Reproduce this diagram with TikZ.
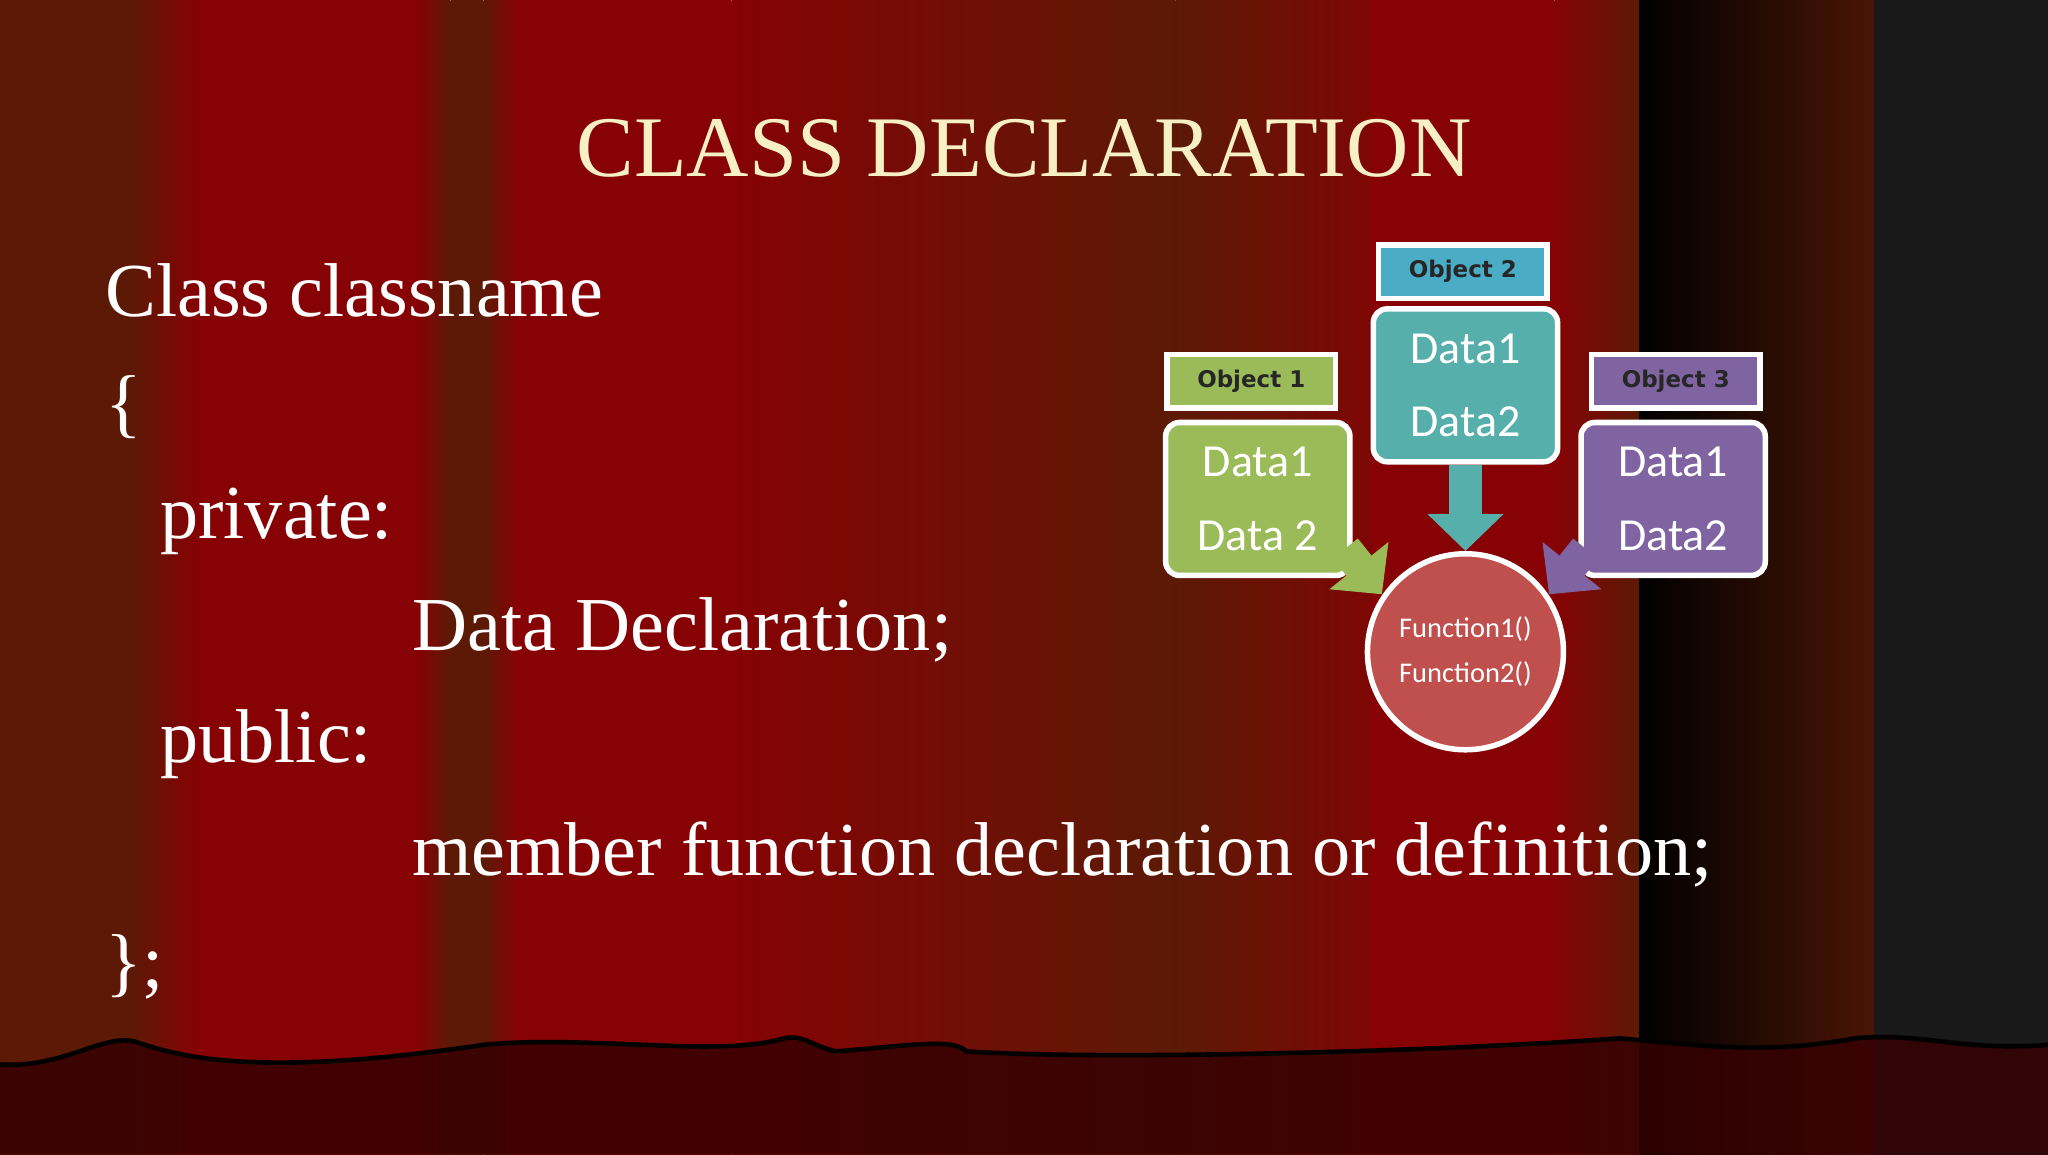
\documentclass[tikz,border=0pt]{standalone}
\usepackage{fontspec}
\setmainfont{Liberation Serif}
\newfontfamily\calfnt{Carlito}
\newfontfamily\dvs{DejaVu Sans}
\usetikzlibrary{arrows.meta}
\definecolor{brn}{HTML}{5C1A06}
\definecolor{rd}{HTML}{860204}
\definecolor{ttl}{HTML}{F6F0C4}
\definecolor{gr}{HTML}{9BBB59}
\definecolor{tl}{HTML}{4BACC6}
\definecolor{tl2}{HTML}{56AFAA}
\definecolor{pu}{HTML}{8064A2}
\definecolor{cr}{HTML}{C0504D}
\tikzset{
 body/.style={font=\fontsize{16.6}{18}\selectfont, text=white, anchor=base west, inner sep=0},
 lbl/.style={draw=white, line width=1.2pt, minimum width=1.29cm, minimum height=0.41cm, font=\dvs\bfseries\fontsize{5}{6}\selectfont, text=black!85, inner sep=0},
 dbox/.style={draw=white, line width=1.2pt, rounded corners=3pt, minimum width=1.41cm, minimum height=1.17cm, text=white, font=\calfnt\fontsize{10}{12}\selectfont, align=center, inner sep=0},
 barr/.style={line width=7pt, -{Triangle[length=8pt,width=16pt]}}
}
\begin{document}
\begin{tikzpicture}[x=0.01cm,y=-0.01cm]
\useasboundingbox (0,0) rectangle (1568,884);
% background stripes
\fill[brn] (0,0) rectangle (130,884);
\shade[left color=brn, right color=rd] (100,0) rectangle (150,884);
\fill[rd] (150,0) rectangle (330,884);
\shade[left color=rd, right color=brn] (320,0) rectangle (345,884);
\fill[brn] (345,0) rectangle (370,884);
\shade[left color=brn, right color=rd] (370,0) rectangle (395,884);
\fill[rd] (395,0) rectangle (560,884);
\shade[left color=rd, right color=brn] (560,0) rectangle (900,884);
\shade[left color=brn, right color=rd!80!brn] (900,0) rectangle (1050,884);
\fill[rd] (1050,0) rectangle (1190,884);
\shade[left color=rd, right color=brn] (1190,0) rectangle (1255,884);
\shade[left color=black, right color=brn!80!black] (1255,0) rectangle (1435,884);
\fill[black!90] (1435,0) rectangle (1568,884);
% bottom
\fill[black!60!rd, opacity=0.85] (0,815) .. controls (50,818) and (80,790) .. (105,798) .. controls (140,810) and (200,825) .. (370,800) .. controls (450,792) and (550,810) .. (600,795) .. controls (615,792) and (620,800) .. (640,805) .. controls (700,800) and (730,795) .. (740,805) .. controls (850,812) and (1100,805) .. (1240,795) .. controls (1300,800) and (1350,808) .. (1420,795) .. controls (1470,790) and (1500,805) .. (1568,800) -- (1568,884) -- (0,884) -- cycle;
\draw[black, line width=1pt] (0,815) .. controls (50,818) and (80,790) .. (105,798) .. controls (140,810) and (200,825) .. (370,800) .. controls (450,792) and (550,810) .. (600,795) .. controls (615,792) and (620,800) .. (640,805) .. controls (700,800) and (730,795) .. (740,805) .. controls (850,812) and (1100,805) .. (1240,795) .. controls (1300,800) and (1350,808) .. (1420,795) .. controls (1470,790) and (1500,805) .. (1568,800);
% text
\node[font=\fontsize{18.8}{22}\selectfont, text=ttl, anchor=base] (title) at (784,135) {CLASS DECLARATION};
\node[body] (t1) at (80,242) {Class classname};
\node[body] (t2) at (80,328) {\{};
\node[body] (t3) at (122,412) {private:};
\node[body] (t4) at (315,498) {Data Declaration;};
\node[body] (t5) at (122,584) {public:};
\node[body] (t6) at (315,670) {member function declaration or definition;};
\node[body] (t7) at (80,756) {\};};
% diagram
\node[dbox, fill=gr] (d1) at (963,382) {Data1\\[0.14cm]Data 2};
\node[dbox, fill=tl2] (d2) at (1122,295) {Data1\\[0.14cm]Data2};
\node[dbox, fill=pu] (d3) at (1281,382) {Data1\\[0.14cm]Data2};
\node[lbl, fill=gr] (o1) at (958,292) {Object 1};
\node[lbl, fill=tl] (o2) at (1120,208) {Object 2};
\node[lbl, fill=pu] (o3) at (1283,292) {Object 3};
\node[circle, draw=white, line width=1.2pt, fill=cr, minimum size=1.5cm, inner sep=0, text=white, font=\calfnt\fontsize{6.2}{8}\selectfont, align=center] (f) at (1122,499) {Function1()\\[0.06cm]Function2()};
\draw[barr, tl2] (d2.south) -- (f.north);
\draw[barr, gr] (1030,420) -- (1058,455);
\draw[barr, pu] (1214,420) -- (1186,455);
\end{tikzpicture}
\end{document}
